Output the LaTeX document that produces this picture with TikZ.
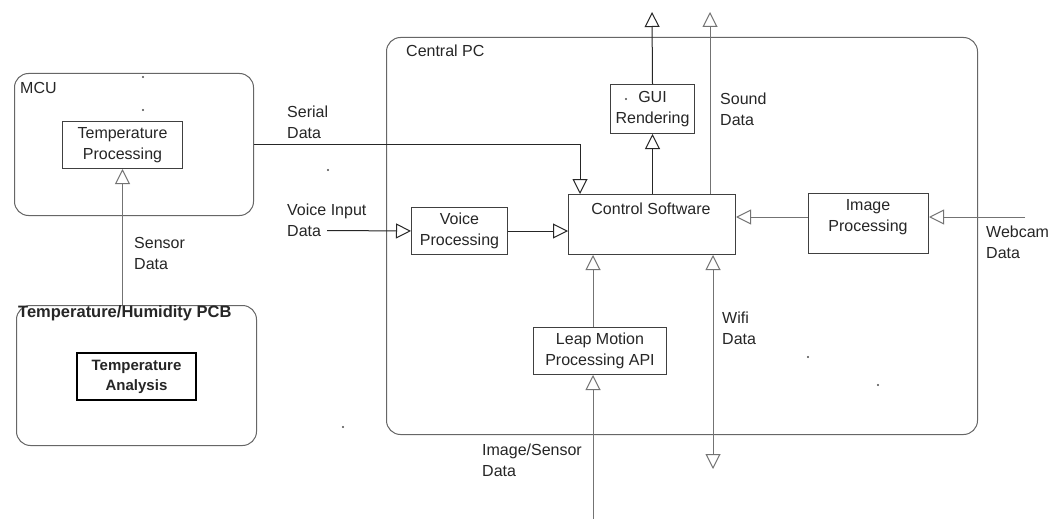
\documentclass[tikz,border=0pt]{standalone}
\usepackage{fontspec}
\setmainfont{Liberation Sans}
\usetikzlibrary{arrows.meta}
\begin{document}
\begin{tikzpicture}[x=1pt,y=-1pt,
  font=\fontsize{16}{21}\selectfont,
  txt/.style={text=black!85, align=center, inner sep=0pt},
  box/.style={draw=black!75, line width=1pt, inner sep=0pt, anchor=north west, align=center, text=black!85},
  group/.style={draw=black!60, line width=1pt, rounded corners=14pt, inner sep=0pt, anchor=north west},
  lbl/.style={inner sep=0pt, anchor=west, align=left, text=black!85},
  solid line/.style={draw=black!85, line width=1pt},
  faint/.style={draw=black!55, line width=1pt},
  tri/.style={-{Triangle[open,length=15pt,width=15pt]}},
  speck/.style={fill=black!70, circle, inner sep=0pt, minimum size=2.4pt}
]
\useasboundingbox (0,0) rectangle (1058,519);
\fill[white] (0,0) rectangle (1058,519);

% containers
\node[group, minimum width=239pt, minimum height=142pt] (mcu) at (14,73) {};
\node[group, minimum width=240pt, minimum height=140pt] (pcb) at (16,305) {};
\node[group, minimum width=591pt, minimum height=397pt] (pc) at (386,37) {};

\node[lbl] (mculbl) at (20,88) {MCU};
\node[lbl, font=\fontsize{16.5}{18}\bfseries] (pcblbl) at (18,313) {Temperature/Humidity PCB};
\node[lbl] (pclbl) at (406,51) {Central PC};

% boxes
\node[box, minimum width=120pt, minimum height=47pt] (tp) at (62,121) {Temperature\\Processing};
\node[box, draw=black, line width=2pt, minimum width=119pt, minimum height=47pt, font=\fontsize{15}{20}\bfseries] (ta) at (76,352) {Temperature\\Analysis};
\node[box, minimum width=84pt, minimum height=49pt] (gui) at (610,84) {GUI\\Rendering};
\node[box, minimum width=167pt, minimum height=60pt] (ctrl) at (568,194) {};
\node[txt] (ctrltxt) at (651,209) {Control Software};
\node[box, minimum width=96pt, minimum height=47pt] (voice) at (411,207) {Voice\\Processing};
\node[box, minimum width=120pt, minimum height=60pt] (img) at (808,193) {};
\node[txt] (imgtxt) at (868,217) {Image\\Processing};
\node[box, minimum width=133pt, minimum height=47pt] (leap) at (533,327) {Leap Motion\\Processing API};

% coordinates for free ends
\coordinate (serialin) at (580,194);
\coordinate (guiout) at (652,12);
\coordinate (soundsrc) at (710,194);
\coordinate (soundout) at (710,12);
\coordinate (voicein) at (327,230.5);
\coordinate (webcam) at (1025,217);
\coordinate (leapx) at (593,0);
\coordinate (leapin) at (593,519);
\coordinate (wifix) at (713,0);
\coordinate (wifiout) at (713,469);

% connectors
\draw[solid line, tri] (mcu.east) -| (serialin);
\draw[solid line, tri] (ctrl.north -| gui.south) -- (gui.south);
\draw[solid line, tri] (gui.north) -- (guiout);
\draw[faint, tri] (soundsrc) -- (soundout);
\draw[solid line, tri] (voicein) -- (voice.west);
\draw[solid line, tri] (voice.east) -- (voice.east -| ctrl.west);
\draw[faint, tri] ([yshift=-24pt]img.north west) -- ([yshift=-24pt]img.north west -| ctrl.east);
\draw[faint, tri] (webcam) -- (webcam -| img.east);
\draw[faint, tri] (leap.north -| leapx) -- (ctrl.south -| leapx);
\draw[faint, tri] (leapin) -- (leapin |- leap.south);
\draw[faint, {Triangle[open,length=15pt,width=15pt]}-{Triangle[open,length=15pt,width=15pt]}] (ctrl.south -| wifix) -- (wifiout);
\draw[faint, tri] (pcb.north -| tp.south) -- (tp.south);

% labels
\node[lbl] (seriallbl) at (287,122) {Serial\\Data};
\node[lbl] (voicelbl) at (287,220) {Voice Input\\Data};
\node[lbl] (sensorlbl) at (134,253) {Sensor\\Data};
\node[lbl] (soundlbl) at (720,109) {Sound\\Data};
\node[lbl] (webcamlbl) at (986,242) {Webcam\\Data};
\node[lbl] (wifilbl) at (722,328) {Wifi\\Data};
\node[lbl] (imgsenslbl) at (482,460) {Image/Sensor\\Data};

% scan specks
\node[speck] (s1) at (143,77) {};
\node[speck] (s2) at (143,110) {};
\node[speck] (s3) at (328,170) {};
\node[speck] (s4) at (626,99) {};
\node[speck] (s5) at (808,357) {};
\node[speck] (s6) at (878,385) {};
\node[speck] (s7) at (343,427) {};
\end{tikzpicture}
\end{document}
